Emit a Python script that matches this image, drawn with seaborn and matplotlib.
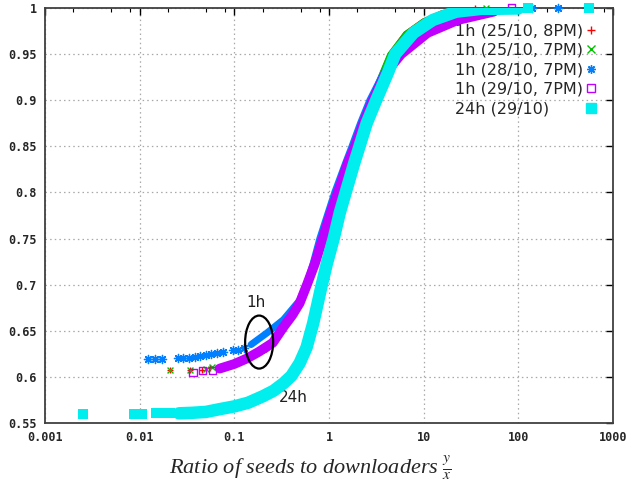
import numpy as np
import pandas as pd
import matplotlib
matplotlib.use("Agg")
import matplotlib.pyplot as plt
import seaborn as sns
from matplotlib.lines import Line2D
from matplotlib.patches import Ellipse
from matplotlib.font_manager import FontProperties
from matplotlib.ticker import FixedLocator, LogLocator, NullFormatter

# values (CDF of seeds / downloaders ratio)
x_25_8pm = [0.0209, 0.034, 0.046, 0.055, 0.065, 0.074, 0.1, 0.123, 0.16, 0.22, 0.28, 0.35, 0.44, 0.55, 0.68,
            0.85, 1.2, 1.8, 2.7, 4.3, 6.3, 9.8, 15.5, 28, 35]
y_25_8pm = [0.607, 0.607, 0.608, 0.610, 0.611, 0.613, 0.615, 0.618, 0.622, 0.628, 0.642, 0.657, 0.675, 0.695,
            0.72, 0.75, 0.80, 0.85, 0.90, 0.95, 0.973, 0.987, 0.996, 0.999, 1.0]

x_25_7pm = [0.0209, 0.034, 0.05, 0.058, 0.07, 0.09, 0.12, 0.17, 0.23, 0.29, 0.35, 0.44, 0.55, 0.68,
            0.85, 1.2, 1.8, 2.7, 4.3, 6.4, 10, 16, 30, 46]
y_25_7pm = [0.607, 0.607, 0.609, 0.611, 0.612, 0.614, 0.617, 0.623, 0.630, 0.645, 0.657, 0.675, 0.695, 0.72,
            0.75, 0.80, 0.85, 0.90, 0.95, 0.973, 0.987, 0.996, 0.999, 1.0]

x_28_7pm = [0.0122, 0.0145, 0.0172, 0.0254, 0.029, 0.033, 0.038, 0.043, 0.05, 0.057, 0.066, 0.076, 0.096, 0.11,
            0.125, 0.15, 0.22, 0.33, 0.49, 0.6, 0.68, 0.80, 0.98, 1.15, 1.5, 1.75, 2.15, 2.7, 3.8, 5.5, 10.5,
            22, 55, 90, 140, 260]
y_28_7pm = [0.619, 0.619, 0.619, 0.620, 0.620, 0.621, 0.622, 0.623, 0.624, 0.625, 0.626, 0.627, 0.629, 0.629,
            0.631, 0.635, 0.6475, 0.662, 0.683, 0.705, 0.723, 0.75, 0.778, 0.80, 0.832, 0.85, 0.875, 0.90,
            0.93, 0.95, 0.973, 0.987, 0.996, 0.999, 1.0, 1.0]

x_29_7pm = [0.0366, 0.0466, 0.0593, 0.07, 0.1, 0.136, 0.18, 0.255, 0.33, 0.41, 0.49, 0.585, 0.71, 0.86, 1.04,
            1.24, 1.58, 1.88, 2.3, 2.9, 4.0, 5.8, 11, 23, 55, 85]
y_29_7pm = [0.605, 0.6065, 0.607, 0.609, 0.614, 0.62, 0.627, 0.637, 0.654, 0.667, 0.68, 0.70, 0.723, 0.75,
            0.778, 0.80, 0.832, 0.85, 0.875, 0.90, 0.93, 0.95, 0.973, 0.987, 0.996, 1.0]

x_24h = [0.00252, 0.0088, 0.0105, 0.0148, 0.0175, 0.021, 0.026, 0.035, 0.05, 0.07, 0.1, 0.14, 0.2, 0.26, 0.33,
         0.4, 0.49, 0.58, 0.68, 0.76, 0.84, 0.95, 1.12, 1.3, 1.5, 1.85, 2.1, 2.5, 3.15, 4.2, 5.0, 7.8, 12.5,
         22, 40, 100, 125, 560]
y_24h = [0.560, 0.560, 0.560, 0.5605, 0.5605, 0.5605, 0.5605, 0.561, 0.562, 0.565, 0.568, 0.572, 0.579, 0.585,
         0.593, 0.601, 0.615, 0.632, 0.658, 0.68, 0.70, 0.723, 0.75, 0.778, 0.80, 0.832, 0.85, 0.875, 0.90, 0.93,
         0.95, 0.973, 0.987, 0.996, 0.999, 0.9995, 1.0, 1.0]

labels = ["1h (25/10, 8PM)", "1h (25/10, 7PM)", "1h (28/10, 7PM)", "1h (29/10, 7PM)", "24h (29/10)"]
x_ticks = [0.001, 0.01, 0.1, 1, 10, 100, 1000]
x_ticklabels = ["0.001", "0.01", "0.1", "1", "10", "100", "1000"]
y_ticks = [0.55, 0.6, 0.65, 0.7, 0.75, 0.8, 0.85, 0.9, 0.95, 1.0]
y_ticklabels = ["0.55", "0.6", "0.65", "0.7", "0.75", "0.8", "0.85", "0.9", "0.95", "1"]

# style per series: color, marker, scatter size, band width, band x-range
series = [
    (x_25_8pm, y_25_8pm, "#ff0000", "+", 22, 2.0, (0.06, 30)),
    (x_25_7pm, y_25_7pm, "#00c000", "x", 18, 2.5, (0.065, 32)),
    (x_28_7pm, y_28_7pm, "#0080ff", (8, 2, 0), 34, 5.0, (0.14, 95)),
    (x_29_7pm, y_29_7pm, "#c000ff", "s", 26, 7.0, (0.065, 60)),
    (x_24h, y_24h, "#00eeee", "s", 55, 9.0, (0.024, 105)),
]

sns.set_style("white")
plt.rcParams["font.family"] = ["DejaVu Sans"]
plt.rcParams["mathtext.fontset"] = "stix"

fig = plt.figure(figsize=(6.29, 4.91), dpi=100)
ax = fig.add_axes([45 / 629, 68 / 491, 568 / 629, 415 / 491])
ax.set_xscale("log")

for i, (xs, ys, col, mk, sz, lw, (lo, hi)) in enumerate(series):
    df = pd.DataFrame({"x": xs, "y": ys})
    band = (df["x"] >= lo) & (df["x"] <= hi)
    sns.lineplot(data=df[band], x="x", y="y", sort=False, estimator=None, color=col,
                 linewidth=lw, solid_capstyle="round", solid_joinstyle="round", ax=ax, zorder=3 + i)
    kw = dict(linewidth=1.0)
    if labels[i].startswith("1h (29"):
        kw.update(facecolor="none", edgecolor=col)
    elif mk == "s":
        kw.update(edgecolor=col, linewidth=0)
    sns.scatterplot(data=df[~band], x="x", y="y", color=col, marker=mk, s=sz, ax=ax,
                    zorder=3 + i, legend=False, clip_on=False, **kw)

ax.set_xlim(0.001, 1000)
ax.set_ylim(0.55, 1.0)
ax.set_xlabel("")
ax.set_ylabel("")

ax.xaxis.set_major_locator(FixedLocator(x_ticks))
ax.set_xticklabels(x_ticklabels)
ax.xaxis.set_minor_locator(LogLocator(base=10, subs=(2, 5, 8)))
ax.xaxis.set_minor_formatter(NullFormatter())
ax.set_yticks(y_ticks)
ax.set_yticklabels(y_ticklabels)

tick_font = FontProperties(family="DejaVu Sans Mono", weight="bold", size=8.5)
for t in ax.get_xticklabels() + ax.get_yticklabels():
    t.set_fontproperties(tick_font)

ax.tick_params(which="both", direction="in", top=True, right=True, color="black")
ax.tick_params(which="major", length=5, width=1)
ax.tick_params(which="minor", length=3, width=0.8)
ax.tick_params(axis="x", pad=6)
ax.tick_params(axis="y", pad=6)

ax.grid(True, which="major", color="#a8a8a8", linestyle=(0, (1.2, 2.5)), linewidth=0.9)
ax.set_axisbelow(True)
for sp in ax.spines.values():
    sp.set_visible(True)
    sp.set_color("#404040")
    sp.set_linewidth(1.3)

# legend: gnuplot style, texts on the left, markers in a column on the right
handles = []
for xs, ys, col, mk, sz, lw, rng in series:
    if mk == "s" and col == "#c000ff":
        h = Line2D([], [], linestyle="none", marker="s", markersize=5.5, markerfacecolor="none",
                   markeredgecolor=col, markeredgewidth=1.0)
    elif mk == "s":
        h = Line2D([], [], linestyle="none", marker="s", markersize=6.5, color=col)
    else:
        h = Line2D([], [], linestyle="none", marker=mk, markersize=6, color=col, markeredgewidth=1.0)
    handles.append(h)
blank = [Line2D([], [], linestyle="none") for _ in labels]
leg_txt = ax.legend(blank, labels, loc="upper left", bbox_to_anchor=((455 - 45) / 568, 0.963),
                    frameon=False, fontsize=11.5, handlelength=0, handletextpad=0, labelspacing=0.28,
                    borderpad=0, borderaxespad=0)
ax.add_artist(leg_txt)
ax.legend(handles, [" "] * len(labels), loc="upper right", bbox_to_anchor=((597 - 45) / 568, 0.963),
          frameon=False, fontsize=11.5, handlelength=0.8, handletextpad=0, labelspacing=0.28,
          borderpad=0, borderaxespad=0, markerfirst=False)

ax.text(0.169, 0.681, "1h", fontsize=11, ha="center", va="center", color="#202020")
ax.text(0.416, 0.578, "24h", fontsize=11, ha="center", va="center", color="#202020")
ax.add_patch(Ellipse((0.377, 0.195), 0.0493, 0.1277, transform=ax.transAxes, fill=False,
                     edgecolor="black", linewidth=1.6, zorder=10))

fig.text(310 / 629, 0.047, r"Ratio of seeds to downloaders $\frac{y}{x}$", ha="center", va="center",
         fontsize=16, family="Liberation Serif", style="italic")

fig.savefig("out.png", dpi=100)
